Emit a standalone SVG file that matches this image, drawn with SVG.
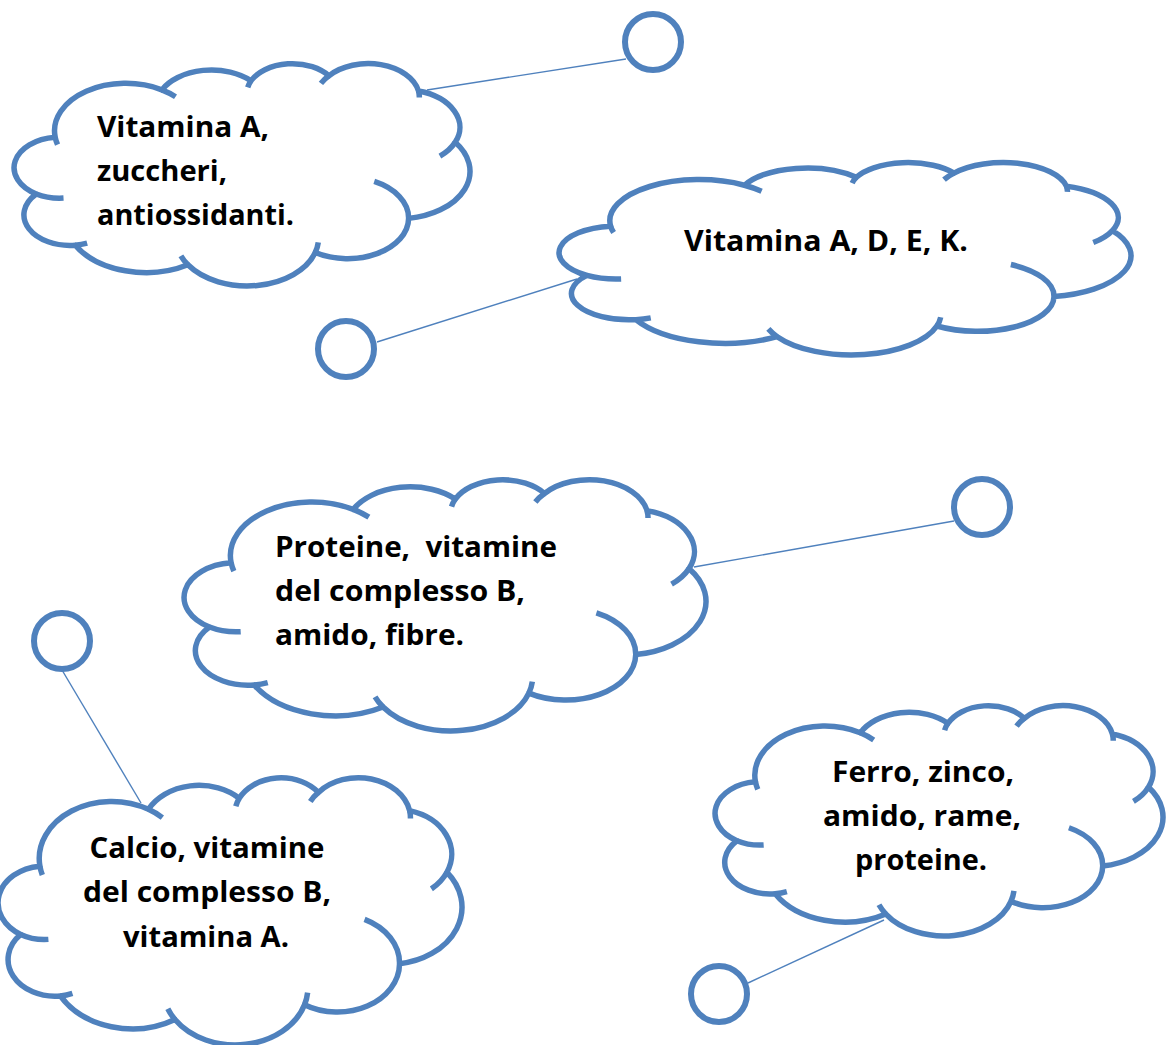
<svg xmlns="http://www.w3.org/2000/svg" xmlns:xlink="http://www.w3.org/1999/xlink" width="1172" height="1045" viewBox="0 0 1172 1045">
<style>
.cl{fill:#ffffff;stroke:#4F81BD;stroke-width:5.5;stroke-linejoin:round}
.cd{fill:none;stroke:#4F81BD;stroke-width:5.5}
.port{fill:#ffffff;stroke:#4F81BD;stroke-width:6}
.conn{stroke:#4F81BD;stroke-width:1.4;fill:none}
.t{font-family:"Open Sans","Liberation Sans",sans-serif;font-weight:bold;font-size:28px;fill:#000000}
.m{text-anchor:middle}
</style>
<defs>
<path id="cloud" vector-effect="non-scaling-stroke" d="M9.03,33.26 A15.63,21.27 0 0 1 32.42,12.04 A12.35,16.82 0 0 1 51.98,7.94 A10.10,13.76 0 0 1 69.06,5.75 A11.24,15.27 0 0 1 88.71,12.56 A12.35,16.84 0 0 1 96.75,35.54 A15.68,21.34 0 0 1 86.54,69.67 A13.39,18.21 0 0 1 66.06,84.97 A15.63,21.33 0 0 1 38.14,90.49 A17.87,24.41 0 0 1 13.43,81.70 A10.09,13.70 0 0 1 4.89,58.74 A10.06,13.76 0 0 1 9.03,33.26 Z"/>
<path id="cloud-d" vector-effect="non-scaling-stroke" d="M10.86,60.59 A10.06,13.76 0 0 1 4.89,58.74 M16.04,80.78 A10.09,13.70 0 0 1 13.43,81.70 M38.14,90.49 A15.63,21.33 0 0 1 36.60,86.46 M66.73,80.44 A15.63,21.33 0 0 1 66.06,84.97 M79.00,53.13 A13.39,18.21 0 0 1 86.54,69.67 M96.75,35.54 A12.35,16.84 0 0 1 93.40,41.74 M88.71,12.56 A11.24,15.27 0 0 1 88.89,15.49 M67.31,9.15 A11.24,15.27 0 0 1 69.06,5.75 M51.25,10.93 A10.10,13.76 0 0 1 51.98,7.94 M32.42,12.04 A15.63,21.27 0 0 1 35.42,15.14 M9.55,36.55 A15.63,21.27 0 0 1 9.03,33.26"/>
</defs>
<rect width="1172" height="1045" fill="#ffffff"/>
<g id="connectors">
<line class="conn" x1="427" y1="90" x2="626" y2="59"/>
<line class="conn" x1="577" y1="279" x2="377" y2="342"/>
<line class="conn" x1="694" y1="567" x2="954" y2="521"/>
<line class="conn" x1="62" y1="670" x2="141" y2="803"/>
<line class="conn" x1="884" y1="920" x2="748" y2="983"/>
</g>
<g id="cloud1">
<use href="#cloud" class="cl" transform="translate(14,63) scale(4.56,2.23)"/>
<use href="#cloud-d" class="cd" transform="translate(14,63) scale(4.56,2.23)"/>
<text class="t" x="97" y="137" textLength="172" lengthAdjust="spacingAndGlyphs">Vitamina A,</text>
<text class="t" x="97" y="181" textLength="130" lengthAdjust="spacingAndGlyphs">zuccheri,</text>
<text class="t" x="97" y="225" textLength="197" lengthAdjust="spacingAndGlyphs">antiossidanti.</text>
</g>
<g id="cloud2">
<use href="#cloud" class="cl" transform="translate(559,162) scale(5.72,1.93)"/>
<use href="#cloud-d" class="cd" transform="translate(559,162) scale(5.72,1.93)"/>
<text class="t m" x="826" y="251" textLength="284" lengthAdjust="spacingAndGlyphs">Vitamina A, D, E, K.</text>
</g>
<g id="cloud3">
<use href="#cloud" class="cl" transform="translate(184,479) scale(5.22,2.52)"/>
<use href="#cloud-d" class="cd" transform="translate(184,479) scale(5.22,2.52)"/>
<text class="t" x="275" y="557" textLength="282" lengthAdjust="spacingAndGlyphs" xml:space="preserve">Proteine,  vitamine</text>
<text class="t" x="275" y="601" textLength="250" lengthAdjust="spacingAndGlyphs">del complesso B,</text>
<text class="t" x="275" y="645" textLength="189" lengthAdjust="spacingAndGlyphs">amido, fibre.</text>
</g>
<g id="cloud4">
<use href="#cloud" class="cl" transform="translate(-2,777) scale(4.64,2.68)"/>
<use href="#cloud-d" class="cd" transform="translate(-2,777) scale(4.64,2.68)"/>
<text class="t m" x="207" y="858" textLength="235" lengthAdjust="spacingAndGlyphs">Calcio, vitamine</text>
<text class="t m" x="207" y="902" textLength="248" lengthAdjust="spacingAndGlyphs">del complesso B,</text>
<text class="t m" x="206" y="947" textLength="166" lengthAdjust="spacingAndGlyphs">vitamina A.</text>
</g>
<g id="cloud5">
<use href="#cloud" class="cl" transform="translate(715,705) scale(4.48,2.31)"/>
<use href="#cloud-d" class="cd" transform="translate(715,705) scale(4.48,2.31)"/>
<text class="t m" x="923" y="782" textLength="182" lengthAdjust="spacingAndGlyphs">Ferro, zinco,</text>
<text class="t m" x="922" y="826" textLength="198" lengthAdjust="spacingAndGlyphs">amido, rame,</text>
<text class="t m" x="921" y="870" textLength="132" lengthAdjust="spacingAndGlyphs">proteine.</text>
</g>
<g id="port1"><circle class="port" cx="653" cy="42" r="28"/></g>
<g id="port2"><circle class="port" cx="346" cy="349" r="28"/></g>
<g id="port3"><circle class="port" cx="982" cy="507" r="28"/></g>
<g id="port4"><circle class="port" cx="62" cy="641" r="28"/></g>
<g id="port5"><circle class="port" cx="719" cy="994" r="28"/></g>
</svg>
